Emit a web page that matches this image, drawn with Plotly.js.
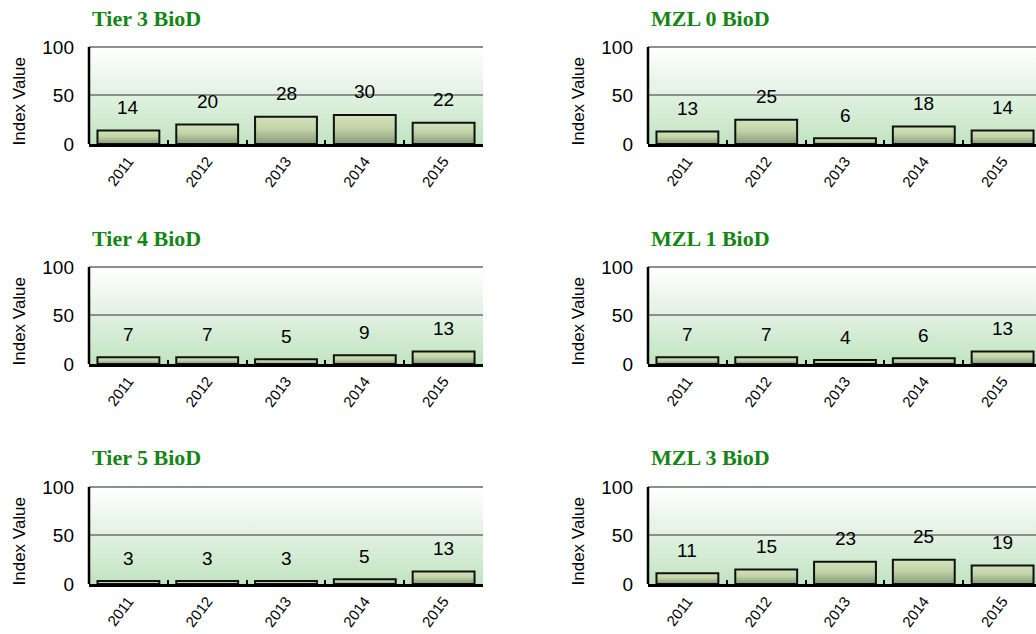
<!DOCTYPE html>
<html>
<head>
<meta charset="utf-8">
<script src="https://cdn.plot.ly/plotly-3.0.1.min.js"></script>
<style>
  html, body { margin: 0; padding: 0; background: #ffffff; }
  #chart { width: 1036px; height: 634px; }
</style>
</head>
<body>
<div id="chart"></div>
<script>
// ---- data ----
const years = ['2011', '2012', '2013', '2014', '2015'];
const panelTitles = ['Tier 3 BioD', 'MZL 0 BioD', 'Tier 4 BioD', 'MZL 1 BioD', 'Tier 5 BioD', 'MZL 3 BioD'];
const tier3 = [14, 20, 28, 30, 22];
const mzl0  = [13, 25, 6, 18, 14];
const tier4 = [7, 7, 5, 9, 13];
const mzl1  = [7, 7, 4, 6, 13];
const tier5 = [3, 3, 3, 5, 13];
const mzl3  = [11, 15, 23, 25, 19];
const yTickVals = [0, 50, 100];
const yTickText = ['0', '50', '100'];
const yTitle = 'Index Value';

const panelValues = [tier3, mzl0, tier4, mzl1, tier5, mzl3];

// ---- layout geometry (pixels) ----
const W = 1036, H = 634;
const colX = [[89, 483], [648, 1036]];
const rowBot = [144, 364, 584];
const plotH = 99;
const catW = 78.8;
const yMax = 102;

const bgSvg = '<svg xmlns="http://www.w3.org/2000/svg" width="100" height="100" preserveAspectRatio="none">' +
  '<defs><linearGradient id="g" x1="0" y1="0" x2="0" y2="1">' +
  '<stop offset="0" stop-color="#ffffff"/><stop offset="0.45" stop-color="#e4f2e4"/><stop offset="1" stop-color="#c0e4c0"/>' +
  '</linearGradient></defs><rect width="100" height="100" fill="url(#g)"/></svg>';
const bgSrc = 'data:image/svg+xml;base64,' + btoa(bgSvg);

const traces = [];
const annotations = [];
const images = [];
const layout = {
  width: W, height: H,
  margin: {l: 0, r: 0, t: 0, b: 0},
  paper_bgcolor: '#ffffff',
  plot_bgcolor: 'rgba(0,0,0,0)',
  showlegend: false,
  bargap: 0.215,
  font: {family: 'Liberation Sans, Arial, sans-serif', color: '#000000'},
  annotations: annotations,
  images: images
};

panelValues.forEach((vals, i) => {
  const col = i % 2, row = Math.floor(i / 2);
  const n = i + 1;
  const xa = 'xaxis' + (n === 1 ? '' : n);
  const ya = 'yaxis' + (n === 1 ? '' : n);
  const xr = 'x' + (n === 1 ? '' : n);
  const yr = 'y' + (n === 1 ? '' : n);
  const x0 = colX[col][0], x1 = colX[col][1];
  const bot = rowBot[row], top = bot - plotH;
  const top100 = bot - 97;
  const xDom = [x0 / W, x1 / W];
  const yDom = [(H - bot) / H, (H - top) / H];
  const xMax = -0.5 + (x1 - x0) / catW;

  traces.push({
    type: 'bar', x: years, y: vals, xaxis: xr, yaxis: yr,
    marker: {color: '#b7c99e', line: {color: '#111111', width: 2}},
    hoverinfo: 'none'
  });

  layout[xa] = {
    domain: xDom, anchor: yr, type: 'category',
    range: [-0.5, xMax],
    showline: true, linecolor: '#000000', linewidth: 2.5,
    ticks: 'inside', tickson: 'boundaries', ticklen: 4, tickwidth: 2, tickcolor: '#000000',
    tickangle: -53, tickfont: {size: 15, color: '#000000'},
    ticklabelstandoff: 0,
    showgrid: false, zeroline: false, fixedrange: true
  };
  layout[ya] = {
    domain: yDom, anchor: xr,
    range: [0, yMax],
    tickvals: yTickVals, ticktext: yTickText,
    tickfont: {size: 19, color: '#000000'},
    ticks: '', ticklabelstandoff: 14,
    showline: false,
    showgrid: true, gridcolor: '#8e8e8e', gridwidth: 2,
    zeroline: false, fixedrange: true
  };

  // green gradient plot background, from the 100 line down to the axis
  images.push({
    source: bgSrc, xref: 'paper', yref: 'paper',
    x: xDom[0], y: (H - top100) / H, sizex: xDom[1] - xDom[0], sizey: (bot - top100) / H,
    xanchor: 'left', yanchor: 'top', sizing: 'stretch', layer: 'below'
  });

  // panel title
  annotations.push({
    text: '<b>' + panelTitles[i] + '</b>', xref: 'paper', yref: 'paper',
    x: (x0 + 1) / W, y: (H - (top100 - 29)) / H, xanchor: 'left', yanchor: 'middle',
    showarrow: false,
    font: {family: 'Liberation Serif, Times New Roman, serif', size: 22, color: '#158515'}
  });
  // y-axis title
  annotations.push({
    text: yTitle, xref: 'paper', yref: 'paper',
    x: (x0 - 70.5) / W, y: (H - (top100 + 54)) / H, xanchor: 'center', yanchor: 'middle',
    textangle: -90, showarrow: false,
    font: {size: 17, color: '#000000'}
  });
  // data labels
  vals.forEach((v, k) => {
    annotations.push({
      text: String(v), x: k, y: v, xref: xr, yref: yr,
      xanchor: 'center', yanchor: 'middle', yshift: 23,
      showarrow: false, font: {size: 19, color: '#000000'}
    });
  });
});

Plotly.newPlot('chart', traces, layout, {staticPlot: true, displayModeBar: false}).then(gd => {
  const ns = 'http://www.w3.org/2000/svg';
  const svg = gd.querySelector('svg.main-svg');
  let defs = svg.querySelector('defs');
  if (!defs) { defs = document.createElementNS(ns, 'defs'); svg.insertBefore(defs, svg.firstChild); }
  const lg = document.createElementNS(ns, 'linearGradient');
  lg.setAttribute('id', 'barGrad');
  lg.setAttribute('x1', '0'); lg.setAttribute('y1', '0');
  lg.setAttribute('x2', '0'); lg.setAttribute('y2', '1');
  [['0', '#d3e2bb'], ['0.45', '#c2d4a8'], ['1', '#869a7c']].forEach(s => {
    const st = document.createElementNS(ns, 'stop');
    st.setAttribute('offset', s[0]); st.setAttribute('stop-color', s[1]);
    lg.appendChild(st);
  });
  defs.appendChild(lg);
  gd.querySelectorAll('.barlayer .point path').forEach(p => { p.style.fill = 'url(#barGrad)'; });

  // y-axis line from 0 to 100 only (as in the reference)
  panelValues.forEach((vals, i) => {
    const n = i + 1;
    const ax = gd._fullLayout['yaxis' + (n === 1 ? '' : n)];
    const xax = gd._fullLayout['xaxis' + (n === 1 ? '' : n)];
    const line = document.createElementNS(ns, 'line');
    const xp = xax._offset;
    line.setAttribute('x1', xp); line.setAttribute('x2', xp);
    line.setAttribute('y1', ax._offset + ax.c2p(100));
    line.setAttribute('y2', ax._offset + ax.c2p(0));
    line.setAttribute('stroke', '#000000');
    line.setAttribute('stroke-width', '2.5');
    svg.appendChild(line);
  });
});
</script>
</body>
</html>
